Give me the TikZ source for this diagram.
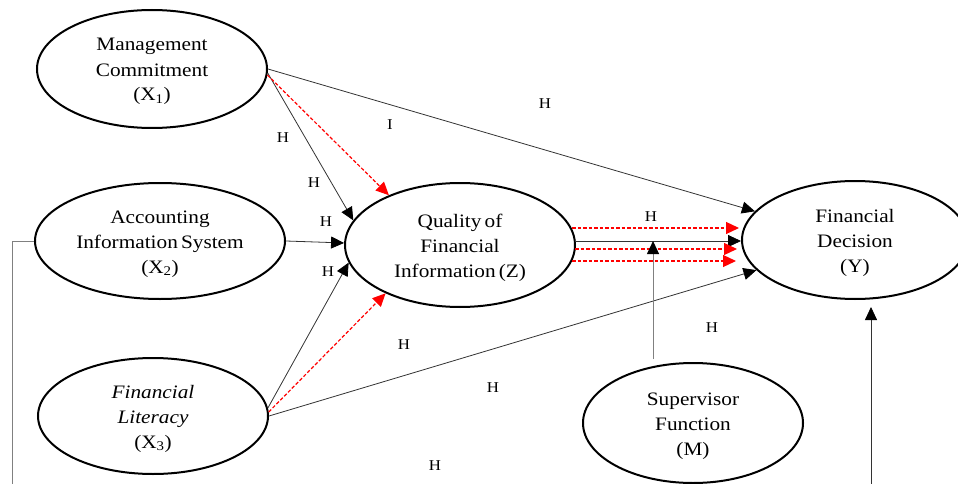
\documentclass[tikz,border=0pt]{standalone}
\usepackage{fontspec}
\setmainfont{Liberation Serif}[FakeStretch=1.12]
\usepackage{tikz}
\usetikzlibrary{shapes,arrows,positioning,calc,arrows.meta}

\begin{document}
\begin{tikzpicture}[x=1pt, y=-1pt,
    construct/.style={ellipse, draw, line width=2pt, inner sep=0pt, align=center,
        text height=68pt, text depth=4pt, font=\fontsize{19}{25}\selectfont},
    path/.style={draw=black!80, line width=0.8pt, -{Triangle[length=13pt, width=12pt, color=black]}},
    mediated/.style={draw=red, line width=1.2pt, dash pattern=on 3.5pt off 2pt,
        -{Triangle[length=13pt, width=12pt, color=red]}},
    moderate/.style={draw=black!50, line width=1pt, -{Triangle[length=13pt, width=12pt, color=black]}},
    hyp/.style={font=\fontsize{15}{15}\selectfont}]
    \clip (0,0) rectangle (958,484);

    \node[construct, minimum width=230, minimum height=118] (x1) at (152,69) {Management\\Commitment\\(X\textsubscript{1})};
    \node[construct, minimum width=250, minimum height=116] (x2) at (160,241) {Accounting\\Information\,System\\(X\textsubscript{2})};
    \node[construct, minimum width=230, minimum height=116] (x3) at (153,416) {\textit{Financial}\\\textit{Literacy}\\(X\textsubscript{3})};
    \node[construct, minimum width=230, minimum height=124] (z) at (460,245) {Quality\,of\\Financial\\Information\,(Z)};
    \node[construct, minimum width=226, minimum height=118] (y) at (855,240) {Financial\\Decision\\(Y)};
    \node[construct, minimum width=220, minimum height=120] (m) at (693,423) {Supervisor\\Function\\(M)};

    \coordinate (lb) at (12,484);
    \coordinate (yb) at (871,484);

    \draw[path] (x1.east) -- (y.164);
    \draw[path] (x1.-2) -- (z.167);
    \draw[mediated] (x1.-3) -- (z.145);
    \draw[path] (x2.east) -- (z.179);
    \draw[path] (x3.4) -- (z.189);
    \draw[mediated] (x3.2) -- (z.213);
    \draw[path] (x3.east) -- (y.197);

    \draw[mediated] ([xshift=-4pt,yshift=17pt]z.east) -- ([xshift=-2pt,yshift=17pt]z.east -| y.west);
    \draw[path] ([xshift=-1pt,yshift=4pt]z.east) -- coordinate[pos=0.47] (mod) ([yshift=4pt]z.east -| y.west);
    \draw[mediated] ([xshift=-1pt,yshift=-4pt]z.east) -- ([xshift=-4pt,yshift=-4pt]z.east -| y.west);
    \draw[mediated] ([xshift=-4pt,yshift=-16pt]z.east) -- ([xshift=-5pt,yshift=-16pt]z.east -| y.west);

    \draw[moderate] ([yshift=3pt]m.north -| mod) -- (mod);
    \draw[draw=black!50, line width=1pt] (x2.west) -| (lb);
    \draw[path, shorten >=7pt] (yb) -- (yb |- y.south);

    \node[hyp] (h1) at (545,104) {H};
    \node[hyp] (h2) at (390,125) {I};
    \node[hyp] (h3) at (283,138) {H};
    \node[hyp] (h4) at (314,183) {H};
    \node[hyp] (h5) at (326,222) {H};
    \node[hyp] (h6) at (328,272) {H};
    \node[hyp] (h7) at (651,217) {H};
    \node[hyp] (h8) at (712,328) {H};
    \node[hyp] (h9) at (404,345) {H};
    \node[hyp] (h10) at (493,388) {H};
    \node[hyp] (h11) at (435,466) {H};
\end{tikzpicture}
\end{document}
